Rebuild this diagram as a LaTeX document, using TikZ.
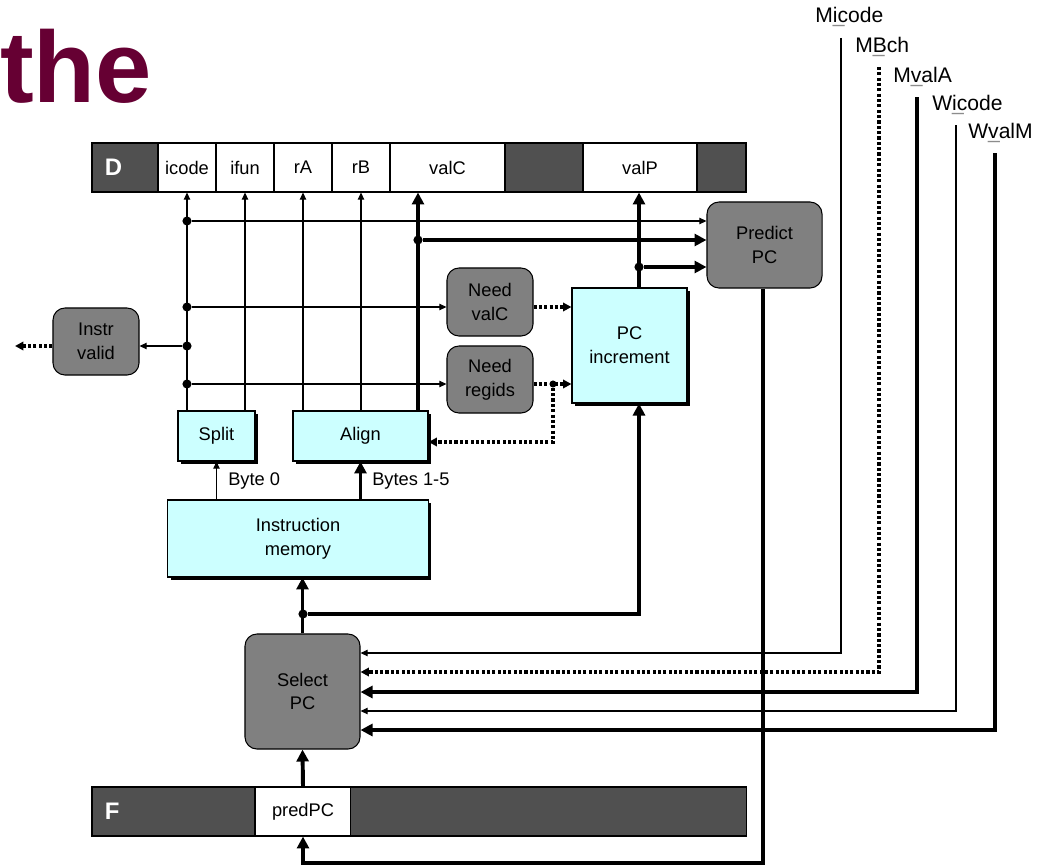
\documentclass[tikz,border=0pt]{standalone}
\usepackage{fontspec}
\setmainfont{Liberation Sans}
\usetikzlibrary{arrows.meta,shadows}
\definecolor{regdark}{HTML}{505050}
\definecolor{boxgray}{HTML}{808080}
\definecolor{logiccyan}{HTML}{CCFFFF}
\definecolor{titlered}{HTML}{660033}
\newcommand{\mwbar}{\rlap{\color{black!45}\_}}
\tikzset{
  regcell/.style={draw, fill=white, inner sep=0pt, minimum height=1.225cm, line width=0.75pt},
  regtag/.style={regcell, fill=regdark, text=white, font=\fontsize{17}{17}\selectfont\bfseries, align=left, inner xsep=0.325cm},
  ctlbox/.style={draw, fill=boxgray, rounded corners=0.3cm, line width=0.75pt, align=center},
  hwbox/.style={draw, fill=logiccyan, line width=0.75pt, align=center,
    drop shadow={opacity=1, fill=black, shadow xshift=0.08cm, shadow yshift=-0.08cm}},
  stagein/.style={anchor=west, inner sep=0pt, font=\fontsize{15}{15}\selectfont},
  thn/.style={line width=0.75pt, -{Triangle[length=5pt,width=4.5pt]}},
  thk/.style={line width=2.8pt, -{Triangle[length=8.5pt,width=8.5pt]}},
  dots/.style={line width=2.2pt, dash pattern=on 2.2pt off 1.6pt, -{Triangle[length=6pt,width=6pt]}},
  jdot/.style={circle, fill=black, inner sep=0pt, minimum size=6.5pt},
}
\begin{document}
\begin{tikzpicture}[x=0.025cm, y=-0.025cm, every node/.style={font=\fontsize{13}{17}\selectfont}]
\useasboundingbox (0,0) rectangle (1050,867);

\node[anchor=base west, inner sep=0pt, text=titlered, font=\fontsize{72}{72}\selectfont\bfseries] (title) at (0,103) {the};

% pipeline registers
\begin{scope}[every node/.append style={regcell}]
  \node[regtag, text width=1.0cm] (Dtag) at (125,167.5) {D};
  \node[minimum width=1.45cm] (icode) at (187,167.5) {icode};
  \node[minimum width=1.45cm] (ifun) at (245,167.5) {ifun};
  \node[minimum width=1.45cm] (rA) at (303,167.5) {rA};
  \node[minimum width=1.45cm] (rB) at (361,167.5) {rB};
  \node[minimum width=2.875cm] (valC) at (447.5,167.5) {valC};
  \node[fill=regdark, minimum width=1.95cm] (Dpad) at (544,167.5) {};
  \node[minimum width=2.85cm] (valP) at (640,167.5) {valP};
  \node[fill=regdark, minimum width=1.225cm] (Dend) at (721.5,167.5) {};

  \node[regtag, text width=3.425cm] (Ftag) at (173.5,811.5) {F};
  \node[minimum width=2.4cm] (predPC) at (303,811.5) {predPC};
  \node[fill=regdark, minimum width=9.875cm] (Fpad) at (548.5,811.5) {};
\end{scope}

% control logic
\begin{scope}[every node/.append style={ctlbox}]
  \node[minimum width=2.875cm, minimum height=2.15cm] (PredictPC) at (764.5,245) {Predict\\PC};
  \node[minimum width=2.15cm, minimum height=1.7cm] (NeedvalC) at (490,302) {Need\\valC};
  \node[minimum width=2.15cm, minimum height=1.675cm] (Needregids) at (490,379.5) {Need\\regids};
  \node[minimum width=2.15cm, minimum height=1.675cm] (Instvalid) at (96,341.5) {Instr\\valid};
  \node[minimum width=2.875cm, minimum height=2.875cm] (SelectPC) at (302.5,691.5) {Select\\PC};
\end{scope}

% hardware units
\begin{scope}[every node/.append style={hwbox}]
  \node[minimum width=2.875cm, minimum height=2.875cm] (PCinc) at (629.5,345.5) {PC\\increment};
  \node[minimum width=1.925cm, minimum height=1.25cm] (Split) at (216.5,436) {Split};
  \node[minimum width=3.375cm, minimum height=1.25cm] (Align) at (360.5,436) {Align};
  \node[minimum width=6.5cm, minimum height=1.925cm] (Imem) at (298,538.5) {Instruction\\memory};
\end{scope}

\node[anchor=west, inner sep=0pt] (lbyte) at (228,481) {Byte 0};
\node[anchor=west, inner sep=0pt] (lbytes) at (372,481) {Bytes 1-5};

% values from later stages
\node[stagein] (Micode) at (815,17) {M\mwbar icode};
\node[stagein] (MBch) at (855,47) {M\mwbar Bch};
\node[stagein] (MvalA) at (893,77) {M\mwbar valA};
\node[stagein] (Wicode) at (932,105) {W\mwbar icode};
\node[stagein] (WvalM) at (968,133) {W\mwbar valM};
\coordinate (tMi) at (841,38);
\coordinate (tMB) at (879,67);
\coordinate (tMv) at (917,97);
\coordinate (tWi) at (956,125);
\coordinate (tWv) at (995,153);

% junctions
\begin{scope}[every node/.append style={jdot}]
  \node (d1) at (187,221) {};
  \node (d2) at (187,307) {};
  \node (d3) at (187,346) {};
  \node (d4) at (187,384) {};
  \node (jC) at (418,240) {};
  \node (jP) at (639,267) {};
  \node (jS) at (303,614) {};
  \node[minimum size=5pt] (jR) at (553,384) {};
\end{scope}
\coordinate (jA) at (553,442);
\coordinate (jQ) at (763,863);
\coordinate (invout) at (15,346);

\begin{scope}[every edge/.style={draw, thn}]
  \path (icode.south |- Split.north) edge (icode.south);
  \path (ifun.south |- Split.north) edge (ifun.south);
  \path (rA.south |- Align.north) edge (rA.south);
  \path (rB.south |- Align.north) edge (rB.south);
  \path (d1) edge (d1 -| PredictPC.west);
  \path (d2) edge (d2 -| NeedvalC.west);
  \path (d3) edge (d3 -| Instvalid.east);
  \path (d4) edge (d4 -| Needregids.west);
  \path (Imem.north -| Split.south) edge (Split.south);
\end{scope}

\begin{scope}[every edge/.style={draw, thk}]
  \path (jC |- Align.north) edge (jC |- valC.south);
  \path (jP |- PCinc.north) edge (jP |- valP.south);
  \path (jC) edge (jC -| PredictPC.west);
  \path (jP) edge (jP -| PredictPC.west);
  \path (Imem.north -| Align.south) edge (Align.south);
  \path (SelectPC.north) edge (SelectPC.north |- Imem.south);
  \path (predPC.north) edge (SelectPC.south);
\end{scope}
\draw[thk] (jS) -| (jP |- PCinc.south);
\draw[thk] (PredictPC.south -| jQ) -- (jQ) -| (predPC.south);

\begin{scope}[every edge/.style={draw, dots}]
  \path (d2 -| NeedvalC.east) edge (d2 -| PCinc.west);
  \path (d4 -| Needregids.east) edge (d4 -| PCinc.west);
  \path (d3 -| Instvalid.west) edge (invout);
\end{scope}
\draw[dots] (jR) -- (jA) -- (jA -| Align.east);

% inputs to Select PC
\draw[thn] (tMi) |- (SelectPC.east |- 0,653);
\draw[dots] (tMB) |- (SelectPC.east |- 0,672);
\draw[thk] (tMv) |- (SelectPC.east |- 0,692);
\draw[thn] (tWi) |- (SelectPC.east |- 0,711);
\draw[thk] (tWv) |- (SelectPC.east |- 0,730);
\end{tikzpicture}
\end{document}
